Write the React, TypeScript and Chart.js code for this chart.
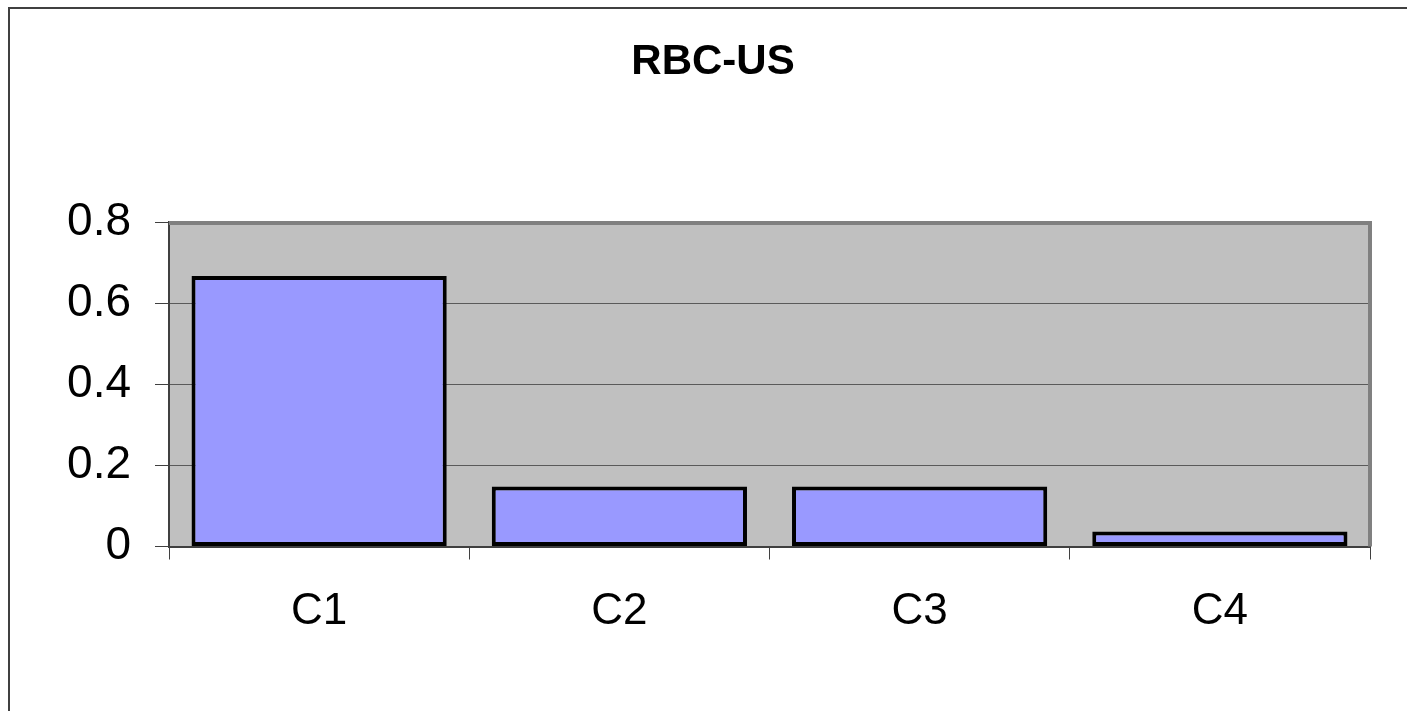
import React, { useEffect, useRef } from "react";
import { Chart, registerables } from "chart.js";

Chart.register(...registerables);

const categories = ["C1", "C2", "C3", "C4"];
const values = [0.667, 0.148, 0.148, 0.037];
const yTicks = [0, 0.2, 0.4, 0.6, 0.8];
const titleText = "RBC-US";

const FONT = '"Liberation Sans", Arial, sans-serif';

const decorPlugin = {
  id: "decor",
  beforeDraw(chart: any) {
    const { ctx, chartArea } = chart;
    ctx.save();
    ctx.fillStyle = "#ffffff";
    ctx.fillRect(0, 0, chart.width, chart.height);
    ctx.fillStyle = "#C0C0C0";
    ctx.fillRect(chartArea.left, chartArea.top, chartArea.right - chartArea.left, chartArea.bottom - chartArea.top);
    ctx.restore();
  },
  afterDraw(chart: any) {
    const { ctx, chartArea } = chart;
    ctx.save();
    // plot area gray border (top and right)
    ctx.strokeStyle = "#808080";
    ctx.lineWidth = 4;
    ctx.beginPath();
    ctx.moveTo(chartArea.left, chartArea.top + 1);
    ctx.lineTo(chartArea.right, chartArea.top + 1);
    ctx.lineTo(chartArea.right, chartArea.bottom);
    ctx.stroke();
    // outer frame
    ctx.strokeStyle = "#404040";
    ctx.lineWidth = 2;
    ctx.beginPath();
    ctx.moveTo(9, chart.height + 5);
    ctx.lineTo(9, 8);
    ctx.lineTo(chart.width + 5, 8);
    ctx.stroke();
    // title
    ctx.fillStyle = "#000000";
    ctx.font = `bold 42px ${FONT}`;
    ctx.textAlign = "center";
    ctx.textBaseline = "alphabetic";
    ctx.fillText(titleText, 713, 74);
    ctx.restore();
  },
};

export default function App() {
  const ref = useRef<HTMLCanvasElement>(null);
  useEffect(() => {
    if (!ref.current) return;
    const chart = new Chart(ref.current, {
      type: "bar",
      data: {
        labels: categories,
        datasets: [
          {
            data: values,
            backgroundColor: "#9999FF",
            borderColor: "#000000",
            borderWidth: 4,
            borderSkipped: false,
            barPercentage: 0.85,
            categoryPercentage: 1,
          },
        ],
      },
      options: {
        responsive: false,
        animation: false,
        devicePixelRatio: 1,
        layout: { padding: { left: 0, right: 37, top: 222, bottom: 0 } },
        plugins: {
          legend: { display: false },
          title: { display: false },
          tooltip: { enabled: false },
        },
        scales: {
          x: {
            afterFit: (s: any) => {
              s.height = 164.5;
            },
            grid: {
              offset: true,
              drawOnChartArea: false,
              drawTicks: true,
              tickLength: 13,
              tickColor: "#404040",
              color: "#404040",
            },
            border: { display: true, color: "#404040", width: 2 },
            ticks: {
              color: "#000000",
              font: { family: FONT, size: 44 },
              padding: 26,
              maxRotation: 0,
            },
          },
          y: {
            min: 0,
            max: 0.8,
            afterFit: (s: any) => {
              s.width = 169;
            },
            afterBuildTicks: (s: any) => {
              s.ticks = yTicks.map((v) => ({ value: v }));
            },
            grid: {
              color: "#5a5a5a",
              lineWidth: 1,
              drawTicks: true,
              tickLength: 14,
              tickColor: "#404040",
            },
            border: { display: true, color: "#404040", width: 2 },
            ticks: {
              color: "#000000",
              font: { family: FONT, size: 46 },
              padding: 24,
              callback: (v: any) => String(Math.round(Number(v) * 10) / 10),
            },
          },
        },
      },
      plugins: [decorPlugin],
    });
    return () => chart.destroy();
  }, []);
  return (
    <div style={{ position: "fixed", left: 0, top: 0, width: 1407, height: 711, background: "#fff" }}>
      <canvas ref={ref} width={1407} height={711} style={{ display: "block", width: 1407, height: 711 }} />
    </div>
  );
}
